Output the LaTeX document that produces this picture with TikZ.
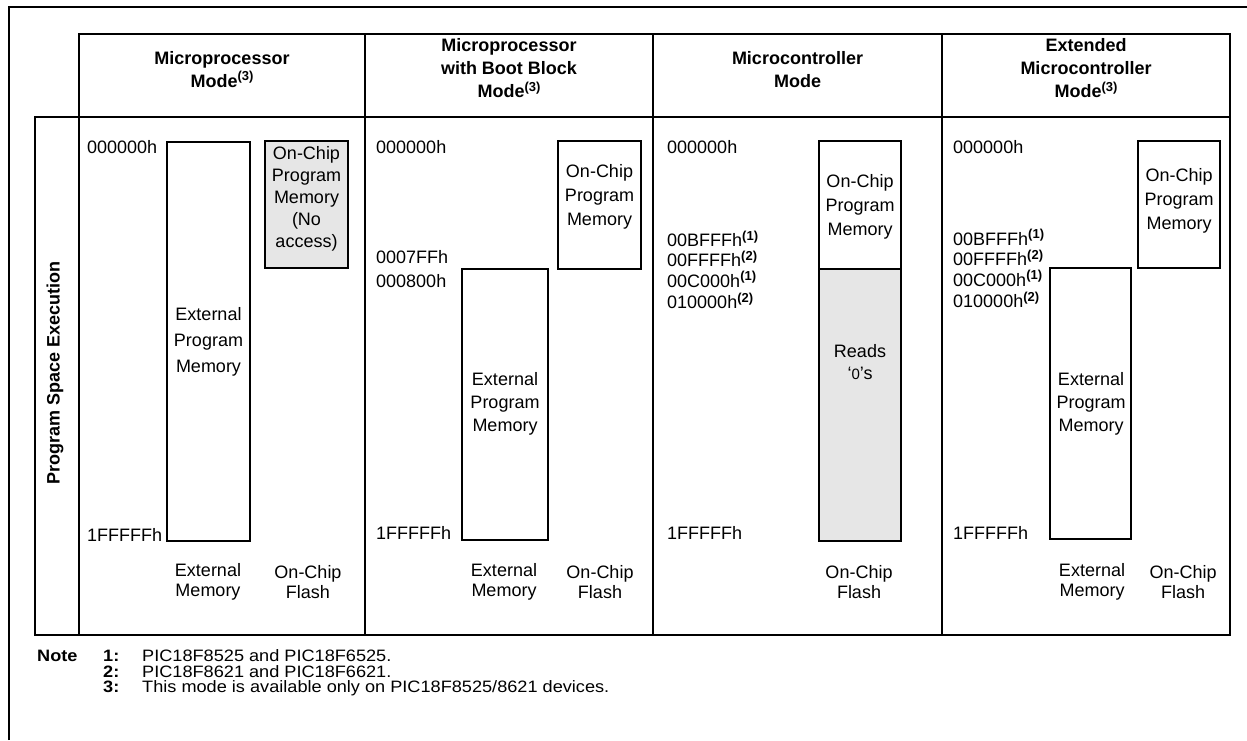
\documentclass[tikz,border=0pt]{standalone}
\usepackage{fontspec}
\setmainfont{Liberation Sans}
\newfontfamily\notefont[FakeStretch=1.1]{Liberation Sans}
\usetikzlibrary{fit}
\definecolor{boxgray}{RGB}{230,230,230}
\newcommand\supn[1]{\raisebox{6.5pt}{\fontsize{13}{13}\selectfont\bfseries(#1)}}
\begin{document}
\begin{tikzpicture}[x=1pt,y=-1pt,
  frame/.style={line width=2.2pt},
  grid/.style={line width=2pt},
  membox/.style={draw, line width=1.8pt, inner sep=0pt},
  graybox/.style={membox, fill=boxgray},
  txt/.style={inner sep=0pt, align=center, font=\fontsize{18}{24}\selectfont},
  addr/.style={inner sep=0pt, anchor=base west, font=\fontsize{18}{22}\selectfont},
  hdr/.style={inner sep=0pt, align=center, font=\fontsize{18}{23}\selectfont\bfseries},
  note/.style={inner sep=0pt, anchor=base west, font=\notefont\fontsize{16.5}{18}\selectfont},
  notelbl/.style={inner sep=0pt, anchor=base west, font=\notefont\fontsize{16.5}{18}\selectfont\bfseries},
]
\useasboundingbox (0,0) rectangle (1247,740);
% outer frame
\coordinate (oa) at (9,740);
\coordinate (ob) at (9,7);
\coordinate (oc) at (1247,7);
\draw[frame] (oa) -- (ob) -- (oc);
% table
\draw[grid] (79,34) rectangle (1230,117);
\draw[grid] (35,117) rectangle (1230,635);
\draw[grid] (79,117) -- (79,635);
\draw[grid] (365,34) -- (365,635);
\draw[grid] (653,34) -- (653,635);
\draw[grid] (942,34) -- (942,635);
% headers
\node[hdr] (h1) at (222,69.5) {Microprocessor\\Mode\supn{3}};
\node[hdr] (h2) at (509,68.5) {Microprocessor\\with Boot Block\\Mode\supn{3}};
\node[hdr] (h3) at (797.5,69.5) {Microcontroller\\Mode};
\node[hdr] (h4) at (1086,68.5) {Extended\\Microcontroller\\Mode\supn{3}};
\node[inner sep=0pt, rotate=90, font=\fontsize{18}{20}\selectfont\bfseries] (rowlbl) at (55,373) {Program Space Execution};
% column 1
\node[membox, fit={(167,142)(250,541)}] (ext1) {};
\node[txt, font=\fontsize{18}{26}\selectfont] (ext1t) at (ext1.center) {External\\Program\\Memory};
\node[graybox, fit={(265,141)(348,268)}] (chip1) {};
\node[txt, font=\fontsize{18}{22}\selectfont] (chip1t) at (306.5,199) {On-Chip\\Program\\Memory\\(No\\access)};
\node[addr] (a1a) at (87,153.5) {000000h};
\node[addr] (a1z) at (87,541) {1FFFFFh};
\node[txt, font=\fontsize{18}{20}\selectfont] (b1e) at (208,582) {External\\Memory};
\node[txt, font=\fontsize{18}{20}\selectfont] (b1f) at (308,582) {On-Chip\\Flash};
% column 2
\node[membox, fit={(558,141)(641,269)}] (chip2) {};
\node[txt] (chip2t) at (599.5,197) {On-Chip\\Program\\Memory};
\node[membox, fit={(462,269)(548,540)}] (ext2) {};
\node[txt, font=\fontsize{18}{23}\selectfont] (ext2t) at (505,404) {External\\Program\\Memory};
\node[addr] (a2a) at (376,153.5) {000000h};
\node[addr] (a2b) at (376,263.5) {0007FFh};
\node[addr] (a2c) at (376,287) {000800h};
\node[addr] (a2z) at (376,539.5) {1FFFFFh};
\node[txt, font=\fontsize{18}{20}\selectfont] (b2e) at (504,582) {External\\Memory};
\node[txt, font=\fontsize{18}{20}\selectfont] (b2f) at (600,582) {On-Chip\\Flash};
% column 3
\node[graybox, fit={(819,269)(901,541)}] (zero3) {};
\node[membox, fit={(819,141)(901,269)}] (chip3) {};
\node[txt] (chip3t) at (860,207) {On-Chip\\Program\\Memory};
\node[txt, font=\fontsize{18}{22}\selectfont] (zero3t) at (860,362) {Reads\\‘{\fontsize{15}{15}\selectfont 0}’s};
\node[addr] (a3a) at (667,153.5) {000000h};
\node[addr] (a3b) at (667,246.7) {00BFFFh\supn{1}};
\node[addr] (a3c) at (667,266.5) {00FFFFh\supn{2}};
\node[addr] (a3d) at (667,287) {00C000h\supn{1}};
\node[addr] (a3e) at (667,308.5) {010000h\supn{2}};
\node[addr] (a3z) at (667,539) {1FFFFFh};
\node[txt, font=\fontsize{18}{20}\selectfont] (b3f) at (859,582) {On-Chip\\Flash};
% column 4
\node[membox, fit={(1138,141)(1220,268)}] (chip4) {};
\node[txt] (chip4t) at (1179,201) {On-Chip\\Program\\Memory};
\node[membox, fit={(1050,268)(1131,539)}] (ext4) {};
\node[txt, font=\fontsize{18}{23}\selectfont] (ext4t) at (1091,404) {External\\Program\\Memory};
\node[addr] (a4a) at (953,153.5) {000000h};
\node[addr] (a4b) at (953,245) {00BFFFh\supn{1}};
\node[addr] (a4c) at (953,265.5) {00FFFFh\supn{2}};
\node[addr] (a4d) at (953,286) {00C000h\supn{1}};
\node[addr] (a4e) at (953,307.5) {010000h\supn{2}};
\node[addr] (a4z) at (953,539) {1FFFFFh};
\node[txt, font=\fontsize{18}{20}\selectfont] (b4e) at (1092,582) {External\\Memory};
\node[txt, font=\fontsize{18}{20}\selectfont] (b4f) at (1183,582) {On-Chip\\Flash};
% notes
\node[notelbl] (nt) at (37,661.7) {Note};
\node[notelbl] (n1) at (103,661.7) {1:};
\node[note] (n1t) at (142,661.7) {PIC18F8525 and PIC18F6525.};
\node[notelbl] (n2) at (103,677.3) {2:};
\node[note] (n2t) at (142,677.3) {PIC18F8621 and PIC18F6621.};
\node[notelbl] (n3) at (103,692.7) {3:};
\node[note] (n3t) at (142,692.7) {This mode is available only on PIC18F8525/8621 devices.};
\end{tikzpicture}
\end{document}
